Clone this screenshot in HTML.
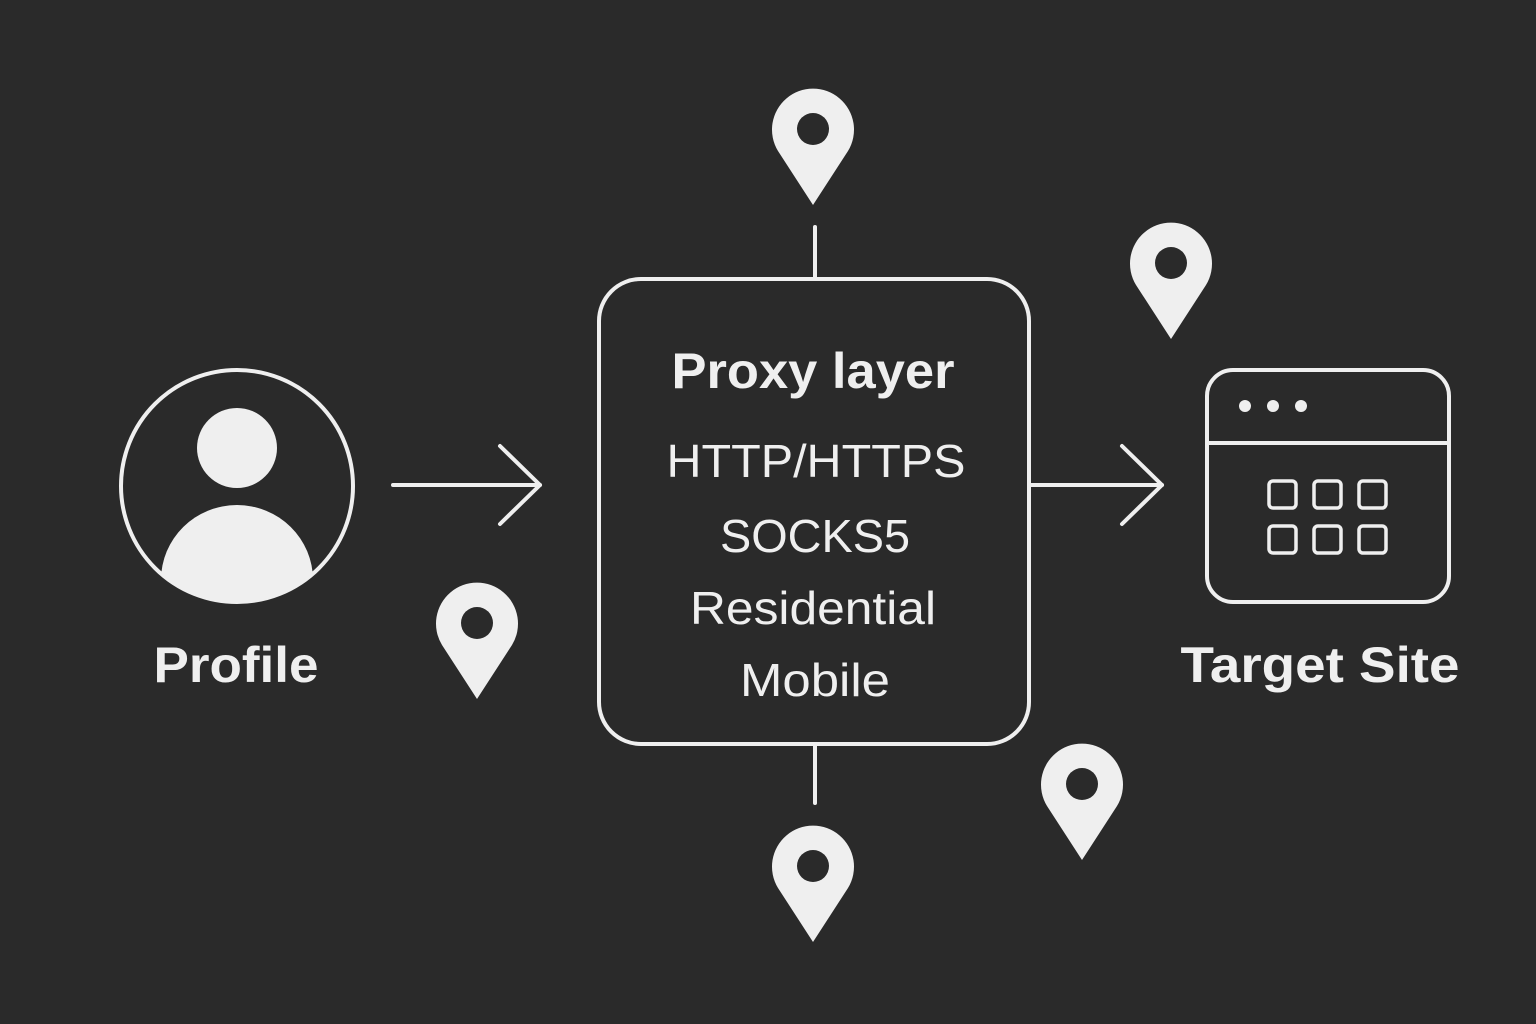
<!DOCTYPE html>
<html><head><meta charset="utf-8"><style>
html,body{margin:0;padding:0;background:#2a2a2a;}
svg{display:block}
text{font-family:"Liberation Sans","DejaVu Sans",sans-serif;fill:#efefef;text-anchor:middle}
</style></head><body>
<svg width="1536" height="1024" viewBox="0 0 1536 1024">
<rect width="1536" height="1024" fill="#2a2a2a"/>
<defs>
<g id="pin"><path d="M0,76 L-35,22 A41,41 0 1 1 35,22 Z" fill="#efefef"/><circle cx="0" cy="0" r="16" fill="#2a2a2a"/></g>
<clipPath id="cc"><circle cx="237" cy="486" r="115"/></clipPath>
</defs>
<g stroke="#efefef" stroke-width="4" fill="none" stroke-linecap="round" stroke-linejoin="round">
<circle cx="237" cy="486" r="116"/>
<line x1="393" y1="485" x2="540" y2="485"/><polyline points="500,446 540,485 500,524"/>
<rect x="599" y="279" width="430" height="465" rx="42"/>
<line x1="815" y1="227" x2="815" y2="279"/><line x1="815" y1="744" x2="815" y2="803"/>
<line x1="1030" y1="485" x2="1162" y2="485"/><polyline points="1122,446 1162,485 1122,524"/>
<rect x="1207" y="370" width="242" height="232" rx="26"/>
<line x1="1207" y1="443" x2="1449" y2="443"/>
<g stroke-width="3.5">
<rect x="1269" y="481" width="27" height="27" rx="4"/><rect x="1314" y="481" width="27" height="27" rx="4"/><rect x="1359" y="481" width="27" height="27" rx="4"/>
<rect x="1269" y="526" width="27" height="27" rx="4"/><rect x="1314" y="526" width="27" height="27" rx="4"/><rect x="1359" y="526" width="27" height="27" rx="4"/>
</g>
</g>
<g fill="#efefef">
<circle cx="237" cy="448" r="40"/>
<ellipse cx="237" cy="580" rx="76" ry="75" clip-path="url(#cc)"/>
<circle cx="1245" cy="406" r="6"/><circle cx="1273" cy="406" r="6"/><circle cx="1301" cy="406" r="6"/>
</g>
<use href="#pin" x="813" y="129"/>
<use href="#pin" x="1171" y="263"/>
<use href="#pin" x="477" y="623"/>
<use href="#pin" x="1082" y="784"/>
<use href="#pin" x="813" y="866"/>
<text x="236" y="682" font-size="50" font-weight="bold" textLength="165" lengthAdjust="spacingAndGlyphs">Profile</text>
<text x="813" y="388" font-size="50" font-weight="bold" textLength="283" lengthAdjust="spacingAndGlyphs">Proxy layer</text>
<text x="816" y="477" font-size="46" textLength="299" lengthAdjust="spacingAndGlyphs">HTTP/HTTPS</text>
<text x="815" y="552" font-size="46" textLength="190" lengthAdjust="spacingAndGlyphs">SOCKS5</text>
<text x="813" y="624" font-size="46" textLength="246" lengthAdjust="spacingAndGlyphs">Residential</text>
<text x="815" y="696" font-size="46" textLength="150" lengthAdjust="spacingAndGlyphs">Mobile</text>
<text x="1320" y="682" font-size="50" font-weight="bold" textLength="279" lengthAdjust="spacingAndGlyphs">Target Site</text>
</svg>
</body></html>
